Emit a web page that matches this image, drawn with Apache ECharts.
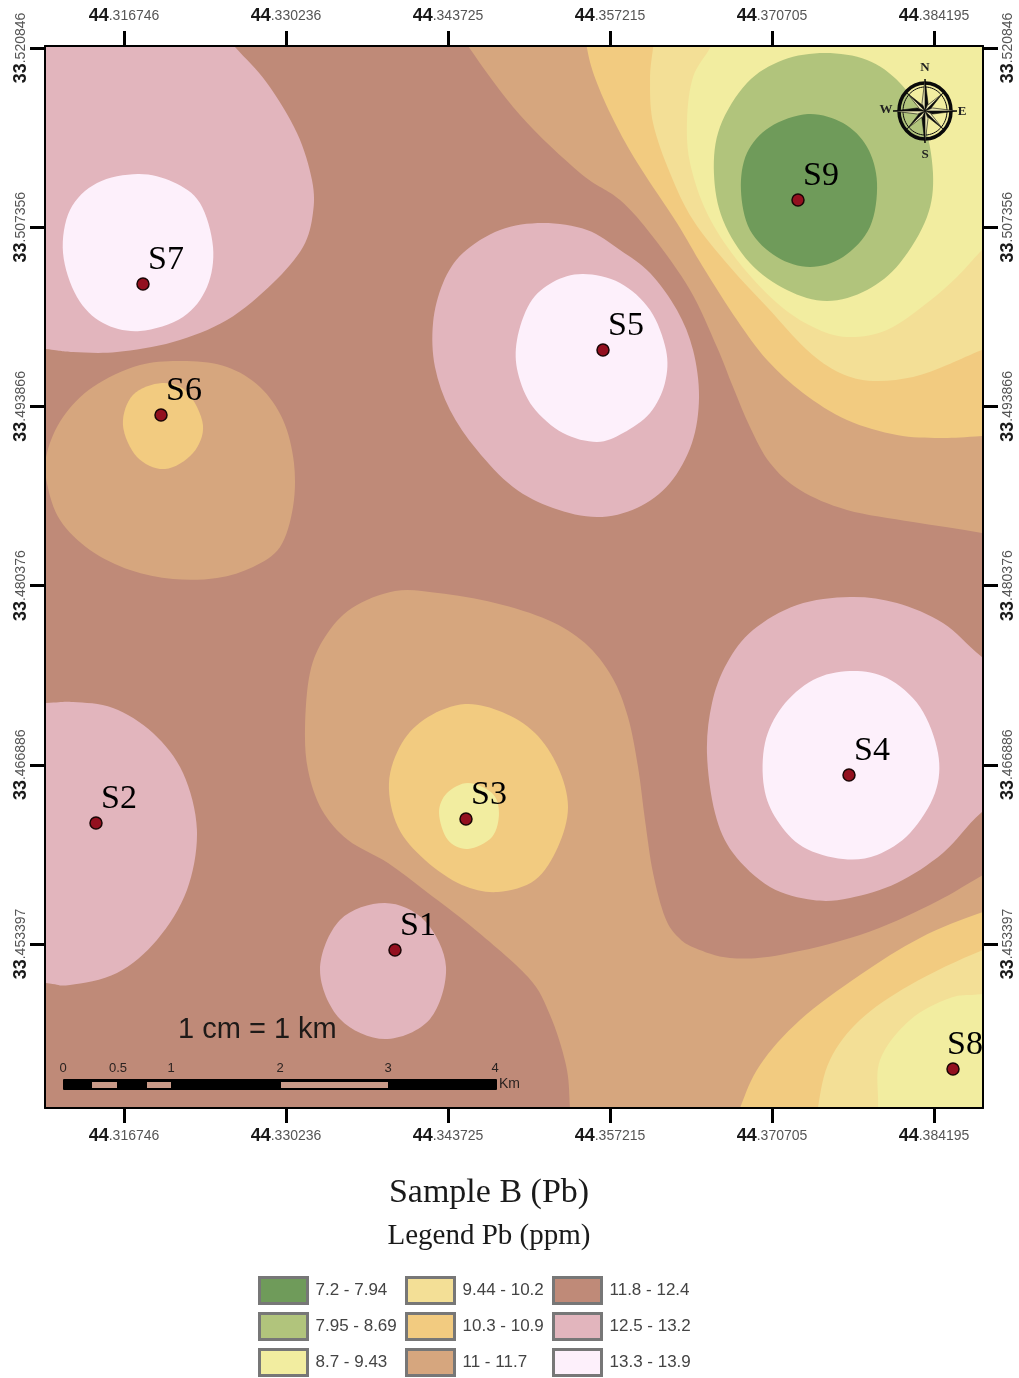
<!DOCTYPE html>
<html>
<head>
<meta charset="utf-8">
<title>Sample B (Pb)</title>
<style>
html,body{margin:0;padding:0;background:#fff;}
#main{width:1019px;height:1378px;}
</style>
<script src="https://cdn.jsdelivr.net/npm/echarts@6/dist/echarts.min.js"></script>
</head>
<body>
<div id="main"></div>
<script>
// axis ticks, degrees
var lonTicks = [44.316746, 44.330236, 44.343725, 44.357215, 44.370705, 44.384195];
var latTicks = [33.520846, 33.507356, 33.493866, 33.480376, 33.466886, 33.453397];

// sample sites: lon, lat, name
var sites = [
    [44.339312, 33.452943, 'S1'],
    [44.314414, 33.462504, 'S2'],
    [44.345224, 33.462805, 'S3'],
    [44.377117, 33.466117, 'S4'],
    [44.356632, 33.498111, 'S5'],
    [44.319827, 33.493218, 'S6'],
    [44.318328, 33.503080, 'S7'],
    [44.385777, 33.443985, 'S8'],
    [44.372870, 33.509403, 'S9']
];

var bandNames = ['7.2 - 7.94', '7.95 - 8.69', '8.7 - 9.43', '9.44 - 10.2', '10.3 - 10.9', '11 - 11.7', '11.8 - 12.4', '12.5 - 13.2', '13.3 - 13.9'];
var bandColors = ['#6f9b5a', '#b1c47c', '#f2eda0', '#f3df96', '#f2cb80', '#d6a67e', '#bf8a78', '#e2b5bd', '#fdf0fb'];

// contour outlines, lon/lat. points outside the frame get clipped
var band1 = [[[44.37370,33.51588],[44.37662,33.51520],[44.37862,33.51339],[44.37945,33.51068],[44.37886,33.50737],[44.37662,33.50511],[44.37387,33.50436],[44.37112,33.50511],[44.36887,33.50715],[44.36812,33.51016],[44.36862,33.51294],[44.37054,33.51490]]];
var band2 = [[[44.37512,33.52047],[44.37862,33.51994],[44.38136,33.51821],[44.38328,33.51543],[44.38411,33.51144],[44.38361,33.50812],[44.38136,33.50466],[44.37862,33.50263],[44.37528,33.50180],[44.37195,33.50263],[44.36887,33.50466],[44.36662,33.50790],[44.36587,33.51144],[44.36637,33.51490],[44.36862,33.51821],[44.37162,33.51994]]];
var band3 = [
    [[44.36721,33.52898],[44.36637,33.52258],[44.36554,33.52085],[44.36413,33.51866],[44.36363,33.51543],[44.36388,33.51219],[44.36529,33.50843],[44.36779,33.50489],[44.37112,33.50165],[44.37412,33.49984],[44.37695,33.49909],[44.38028,33.49962],[44.38361,33.50165],[44.38611,33.50361],[44.38819,33.50564],[44.39302,33.51016],[44.40634,33.53199]],
    [[44.37870,33.42660],[44.37920,33.43638],[44.37953,33.44105],[44.37970,33.44466],[44.38220,33.44767],[44.38553,33.44933],[44.38827,33.44963],[44.39469,33.45031],[44.40634,33.42660]],
    [[44.34539,33.46552],[44.34739,33.46476],[44.34797,33.46326],[44.34739,33.46145],[44.34539,33.46055],[44.34372,33.46122],[44.34298,33.46326],[44.34364,33.46476]]
];
var band4 = [
    [[44.36221,33.52898],[44.36138,33.52446],[44.36080,33.52085],[44.36055,33.51844],[44.36080,33.51520],[44.36221,33.51144],[44.36413,33.50790],[44.36721,33.50436],[44.37029,33.50135],[44.37362,33.49811],[44.37637,33.49638],[44.37911,33.49578],[44.38245,33.49608],[44.38528,33.49698],[44.38819,33.49811],[44.39469,33.50037],[44.40634,33.53199]],
    [[44.37304,33.42660],[44.37404,33.43638],[44.37453,33.44105],[44.37553,33.44466],[44.37803,33.44767],[44.38220,33.45031],[44.38827,33.45294],[44.39469,33.45483],[44.40634,33.42660]]
];
var band5 = [
    [[44.35430,33.52898],[44.35488,33.52446],[44.35530,33.52085],[44.35613,33.51821],[44.35780,33.51490],[44.35971,33.51189],[44.36279,33.50767],[44.36496,33.50436],[44.36779,33.50037],[44.37029,33.49736],[44.37329,33.49488],[44.37695,33.49284],[44.38111,33.49171],[44.38469,33.49149],[44.38819,33.49164],[44.39469,33.49209],[44.40634,33.53199]],
    [[44.31991,33.49563],[44.32199,33.49495],[44.32332,33.49247],[44.32249,33.49036],[44.32016,33.48915],[44.31783,33.49006],[44.31666,33.49247],[44.31749,33.49472]],
    [[44.34514,33.47146],[44.34822,33.47086],[44.35097,33.46928],[44.35288,33.46672],[44.35372,33.46371],[44.35288,33.46070],[44.35097,33.45821],[44.34789,33.45731],[44.34489,33.45784],[44.34181,33.45972],[44.33956,33.46220],[44.33881,33.46552],[44.33989,33.46853],[44.34206,33.47048]],
    [[44.36471,33.42660],[44.36654,33.43713],[44.36804,33.44105],[44.36971,33.44429],[44.37304,33.44767],[44.37803,33.45106],[44.38303,33.45385],[44.38827,33.45580],[44.39469,33.45746],[44.40634,33.42660]]
];
var band6 = [
    [[44.33973,33.53199],[44.34306,33.52446],[44.34539,33.52100],[44.34972,33.51580],[44.35472,33.51144],[44.35805,33.50940],[44.36080,33.50662],[44.36388,33.50263],[44.36612,33.49834],[44.36746,33.49533],[44.36887,33.49232],[44.37054,33.48961],[44.37304,33.48757],[44.37695,33.48607],[44.38245,33.48516],[44.38819,33.48434],[44.39385,33.48321],[44.40634,33.53199]],
    [[44.32199,33.49728],[44.32532,33.49683],[44.32807,33.49533],[44.32999,33.49284],[44.33090,33.48960],[44.33082,33.48629],[44.32974,33.48328],[44.32749,33.48178],[44.32449,33.48095],[44.32083,33.48087],[44.31725,33.48155],[44.31391,33.48306],[44.31142,33.48531],[44.31033,33.48810],[44.31033,33.49036],[44.31167,33.49307],[44.31416,33.49533],[44.31808,33.49698]],
    [[44.33931,33.47997],[44.34289,33.47982],[44.34764,33.47907],[44.35205,33.47779],[44.35513,33.47605],[44.35738,33.47350],[44.35871,33.47048],[44.35955,33.46672],[44.36013,33.46273],[44.36080,33.45874],[44.36179,33.45543],[44.36288,33.45392],[44.36429,33.45309],[44.36721,33.45234],[44.37137,33.45257],[44.37803,33.45407],[44.38386,33.45633],[44.38827,33.45859],[44.39469,33.46198],[44.40634,33.46273],[44.40634,33.42660],[44.35638,33.42660],[44.35405,33.43563],[44.35388,33.44105],[44.35355,33.44429],[44.35222,33.44805],[44.35039,33.45091],[44.34572,33.45468],[44.34206,33.45724],[44.33873,33.45949],[44.33540,33.46122],[44.33323,33.46348],[44.33207,33.46649],[44.33182,33.46973],[44.33223,33.47380],[44.33348,33.47651],[44.33573,33.47869]]
];
var band7 = [[[44.25,33.60],[44.45,33.60],[44.45,33.38],[44.25,33.38]]];
var band8 = [
    [[44.29809,33.53199],[44.31891,33.52898],[44.32307,33.52386],[44.32599,33.52092],[44.32865,33.51821],[44.33115,33.51445],[44.33240,33.51091],[44.33248,33.50843],[44.33165,33.50587],[44.32915,33.50316],[44.32532,33.50037],[44.32083,33.49871],[44.31616,33.49796],[44.31250,33.49796],[44.31025,33.49819],[44.30392,33.49886]],
    [[44.35164,33.50767],[44.35530,33.50715],[44.35805,33.50564],[44.36055,33.50391],[44.36279,33.50112],[44.36413,33.49811],[44.36463,33.49457],[44.36404,33.49111],[44.36221,33.48810],[44.35946,33.48622],[44.35613,33.48554],[44.35247,33.48622],[44.34914,33.48780],[44.34614,33.49058],[44.34389,33.49360],[44.34264,33.49683],[44.34248,33.50014],[44.34331,33.50316],[44.34497,33.50541],[44.34806,33.50715]],
    [[44.37720,33.47952],[44.38111,33.47907],[44.38494,33.47756],[44.38819,33.47500],[44.39302,33.47176],[44.39302,33.46649],[44.38819,33.46333],[44.38494,33.46025],[44.38111,33.45799],[44.37720,33.45686],[44.37412,33.45671],[44.37054,33.45769],[44.36746,33.46025],[44.36596,33.46326],[44.36529,33.46777],[44.36571,33.47154],[44.36696,33.47455],[44.36912,33.47703],[44.37279,33.47892]],
    [[44.31025,33.47154],[44.31250,33.47161],[44.31583,33.47116],[44.31916,33.46928],[44.32166,33.46627],[44.32282,33.46198],[44.32199,33.45746],[44.31949,33.45370],[44.31616,33.45121],[44.31225,33.45031],[44.31025,33.45046],[44.30475,33.45106],[44.29809,33.46122],[44.30475,33.47139]],
    [[44.33848,33.45648],[44.34181,33.45513],[44.34356,33.45166],[44.34223,33.44775],[44.33848,33.44624],[44.33473,33.44775],[44.33307,33.45144],[44.33473,33.45520]]
];
var band9 = [
    [[44.31791,33.51136],[44.32083,33.51076],[44.32307,33.50918],[44.32416,33.50587],[44.32366,33.50286],[44.32166,33.50060],[44.31808,33.49954],[44.31500,33.50014],[44.31283,33.50210],[44.31167,33.50541],[44.31225,33.50865],[44.31450,33.51068]],
    [[44.35497,33.50383],[44.35805,33.50316],[44.36055,33.50112],[44.36188,33.49811],[44.36179,33.49563],[44.36055,33.49337],[44.35830,33.49186],[44.35613,33.49119],[44.35330,33.49186],[44.35080,33.49382],[44.34955,33.49638],[44.34947,33.49886],[44.35055,33.50165],[44.35247,33.50323]],
    [[44.37720,33.47395],[44.38028,33.47342],[44.38303,33.47124],[44.38453,33.46777],[44.38428,33.46476],[44.38220,33.46175],[44.37945,33.46010],[44.37662,33.45979],[44.37329,33.46070],[44.37112,33.46273],[44.37004,33.46522],[44.37012,33.46853],[44.37154,33.47124],[44.37412,33.47327]]
];

// painted bottom to top
var paintOrder = [
    [6, band7], [5, band6], [4, band5], [3, band4], [2, band3],
    [1, band2], [0, band1], [7, band8], [8, band9]
];

var serifFont = '"Liberation Serif", serif';
var sansFont = '"Liberation Sans", Arial, sans-serif';

// closed catmull-rom through the outline points
function splinePath(pts){
    var n = pts.length, d = 'M' + pts[0][0] + ' ' + pts[0][1];
    for(var i = 0; i < n; i++){
        var p0 = pts[(i + n - 1) % n], p1 = pts[i], p2 = pts[(i + 1) % n], p3 = pts[(i + 2) % n];
        d += 'C' + (p1[0] + (p2[0] - p0[0]) / 6) + ' ' + (p1[1] + (p2[1] - p0[1]) / 6) + ' '
            + (p2[0] - (p3[0] - p1[0]) / 6) + ' ' + (p2[1] - (p3[1] - p1[1]) / 6) + ' '
            + p2[0] + ' ' + p2[1];
    }
    return d + 'Z';
}

function bandSeries(item){
    var idx = item[0], regions = item[1];
    return {
        type: 'custom',
        name: bandNames[idx],
        coordinateSystem: 'cartesian2d',
        clip: true,
        silent: true,
        itemStyle: {color: bandColors[idx]},
        data: regions.map(function(r, i){ return i; }),
        renderItem: function(params, api){
            var pts = regions[params.dataIndex].map(function(p){ return api.coord(p); });
            return {type: 'path', shape: {pathData: splinePath(pts)}, style: {fill: bandColors[idx]}};
        }
    };
}

function tickLabel(v){
    var s = v.toFixed(6).split('.');
    return '{big|' + s[0] + '}{small|.' + s[1] + '}';
}
var labelRich = {
    big: {fontFamily: sansFont, fontSize: 18, fontWeight: 'bold', color: '#1a1a1a'},
    small: {fontFamily: sansFont, fontSize: 14, color: '#555'}
};

function geoAxis(pos, range, ticks, rotate, margin){
    return {
        type: 'value', position: pos, min: range[0], max: range[1], z: 6, scale: true,
        splitLine: {show: false},
        axisLine: {show: true, onZero: false, lineStyle: {color: '#000', width: 2}},
        axisTick: {show: true, customValues: ticks, length: 15, lineStyle: {color: '#000', width: 3}},
        axisLabel: {show: true, customValues: ticks, formatter: tickLabel, rich: labelRich, margin: margin, rotate: rotate, hideOverlap: false}
    };
}

var lonRange = [44.310168, 44.388275];
var latRange = [33.441049, 33.520997];

// legend columns
function legendCol(left, names){
    return {
        orient: 'vertical', left: left, top: 1276, padding: 0, itemWidth: 48, itemHeight: 26, itemGap: 7,
        selectedMode: false, icon: 'rect', data: names, itemStyle: {borderColor: '#777', borderWidth: 3},
        textStyle: {fontFamily: sansFont, fontSize: 17, color: '#444', padding: [0, 0, 0, 3]}
    };
}

// compass rose, one half-black point per direction
function roseChildren(){
    var out = [];
    function pt(a, r){ return [Math.sin(a) * r, -Math.cos(a) * r]; }
    for(var i = 0; i < 8; i++){
        var a = i * Math.PI / 4;
        var r = i % 2 ? 25 : 32;
        var w = i % 2 ? 6 : 8;
        out.push({type: 'polygon', z: 20, shape: {points: [[0, 0], pt(a, r), pt(a + Math.PI / 8, w)]}, style: {fill: '#0a0a0a', stroke: '#0a0a0a', lineWidth: 0.6}});
        out.push({type: 'polygon', z: 20, shape: {points: [[0, 0], pt(a, r), pt(a - Math.PI / 8, w)]}, style: {fill: '#e8e4b0', stroke: '#0a0a0a', lineWidth: 0.6}});
    }
    return out;
}

var compassLetters = [['N', 925, 68], ['S', 925, 155], ['W', 886, 110], ['E', 962, 112]];
var scaleLabels = [['0', 63], ['0.5', 118], ['1', 171], ['2', 280], ['3', 388], ['4', 495]];
// km bar pieces, light ones
var scaleGaps = [[92, 117], [147, 171], [281, 388]];

var graphics = [
    {type: 'text', left: 178, top: 1015, z: 20, style: {text: '1 cm = 1 km', font: '29px ' + sansFont, fill: '#1e1a18'}},
    {type: 'rect', shape: {x: 63, y: 1079, width: 434, height: 11, r: 1}, z: 20, style: {fill: '#000'}},
    {type: 'text', left: 499, top: 1077, z: 20, style: {text: 'Km', font: '14px ' + sansFont, fill: '#2a2220'}},
    {type: 'group', x: 925, y: 111, z: 20, children: [
        {type: 'ellipse', z: 20, shape: {cx: 0, cy: 0, rx: 26, ry: 28}, style: {fill: 'none', stroke: '#0a0a0a', lineWidth: 3.5}},
        {type: 'ellipse', z: 20, shape: {cx: 0, cy: 0, rx: 22, ry: 24}, style: {fill: 'none', stroke: '#0a0a0a', lineWidth: 1}}
    ].concat(roseChildren())}
];
scaleGaps.forEach(function(g){
    graphics.push({type: 'rect', shape: {x: g[0], y: 1082, width: g[1] - g[0], height: 6}, z: 21, style: {fill: '#c99a88'}});
});
scaleLabels.forEach(function(l){
    graphics.push({type: 'text', x: l[1], y: 1068, z: 20, style: {text: l[0], font: '13px ' + sansFont, fill: '#2a2220', textAlign: 'center', textVerticalAlign: 'middle'}});
});
compassLetters.forEach(function(l){
    graphics.push({type: 'text', x: l[1], y: l[2], z: 20, style: {text: l[0], font: 'bold 13px ' + serifFont, fill: '#222', textAlign: 'center', textVerticalAlign: 'middle'}});
});

var seriesList = paintOrder.map(bandSeries);
seriesList.push({
    type: 'scatter',
    name: 'sites',
    z: 10,
    symbolSize: 12,
    clip: false,
    itemStyle: {color: '#93101f', borderColor: '#1a0505', borderWidth: 1.5, opacity: 1},
    label: {
        show: true, position: 'inside', offset: [23, -24],
        formatter: function(p){ return p.value[2]; },
        fontFamily: serifFont, fontSize: 34, color: '#000', opacity: 1
    },
    data: sites.map(function(s){
        var d = {value: s};
        if(s[2] == 'S8') d.label = {offset: [12, -24]};
        return d;
    })
});

var chart = echarts.init(document.getElementById('main'));
chart.setOption({
    animation: false,
    backgroundColor: '#fff',
    title: [
        {text: 'Sample B (Pb)', left: 484, top: 1171, textAlign: 'center', textStyle: {fontFamily: serifFont, fontSize: 34, fontWeight: 'normal', color: '#1a1a1a'}},
        {text: 'Legend Pb (ppm)', left: 484, top: 1217, textAlign: 'center', textStyle: {fontFamily: serifFont, fontSize: 29, fontWeight: 'normal', color: '#1a1a1a'}}
    ],
    grid: {left: 45, top: 46, width: 938, height: 1062, containLabel: false},
    xAxis: [geoAxis('bottom', lonRange, lonTicks, 0, 19), geoAxis('top', lonRange, lonTicks, 0, 21)],
    yAxis: [geoAxis('left', latRange, latTicks, 90, 15), geoAxis('right', latRange, latTicks, 90, 16)],
    legend: [
        legendCol(258, bandNames.slice(0, 3)),
        legendCol(405, bandNames.slice(3, 6)),
        legendCol(552, bandNames.slice(6, 9))
    ],
    series: seriesList,
    graphic: graphics
});
</script>
</body>
</html>
